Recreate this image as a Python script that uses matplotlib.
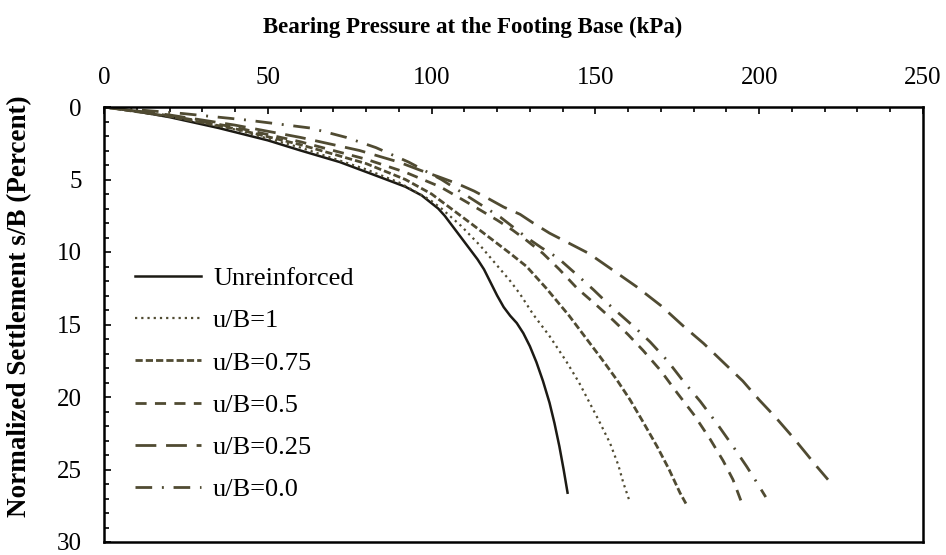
import numpy as np
import matplotlib
matplotlib.use('Agg')
import matplotlib.pyplot as plt
from matplotlib.ticker import MultipleLocator

# ---------------- data ----------------
p_unr = [0, 10, 20, 35, 50, 60, 72, 85, 92, 97, 102, 104, 106, 108, 110, 112, 114, 116, 118, 120,
         122, 124, 126, 128, 130, 132, 134, 136, 137.5, 139, 140.3, 141.5]
s_unr = [0, 0.3, 0.7, 1.45, 2.3, 3.0, 3.8, 4.9, 5.5, 6.1, 7.0, 7.5, 8.1, 8.7, 9.3, 9.9, 10.5, 11.2, 12.1, 13.0,
         13.8, 14.4, 14.9, 15.6, 16.5, 17.6, 18.9, 20.4, 21.8, 23.4, 25.0, 26.6]

p_100 = [0, 20, 40, 60, 80, 90, 99.5, 103, 106, 109, 112, 115, 118, 121, 124, 127, 131, 136, 141,
         145, 148, 151, 154.5, 157, 158.5, 160.3]
s_100 = [0, 0.65, 1.55, 2.8, 4.3, 5.2, 6.4, 7.0, 7.6, 8.2, 8.9, 9.6, 10.4, 11.2, 12.0, 12.9, 14.3, 15.8, 17.5,
         19.0, 20.3, 21.6, 23.2, 24.7, 25.9, 27.1]

p_075 = [0, 20, 40, 60, 80, 92, 100, 107.7, 113, 118.8, 124, 129, 135, 142, 147, 152, 156.5, 160.6,
         164.5, 168.8, 172.5, 175.8, 178]
s_075 = [0, 0.65, 1.5, 2.6, 3.9, 5.0, 6.0, 7.3, 8.2, 9.2, 10.1, 11.0, 12.5, 14.4, 15.9, 17.4, 18.8, 20.2,
         21.7, 23.4, 25.0, 26.6, 27.5]

p_050 = [0, 20, 40, 60, 80, 92, 102.6, 108, 114.8, 120, 124.8, 129, 134, 139, 144.4, 150, 155.4, 160,
         164.6, 170, 174.9, 180, 185, 189, 192, 195]
s_050 = [0, 0.6, 1.4, 2.4, 3.6, 4.5, 5.5, 6.2, 7.1, 7.8, 8.5, 9.2, 10.1, 11.2, 12.5, 13.6, 14.7, 15.7,
         16.8, 18.2, 19.7, 21.2, 22.9, 24.4, 25.7, 27.5]

p_025 = [0, 20, 40, 60, 78, 90, 97, 102, 108, 113, 118, 122, 127, 131, 136, 142, 148, 155, 162.6, 170,
         176.8, 183, 189, 195, 200, 205, 210, 214, 217.6, 221]
s_025 = [0, 0.55, 1.25, 2.1, 3.0, 3.8, 4.4, 4.8, 5.3, 5.8, 6.4, 6.9, 7.4, 8.0, 8.7, 9.4, 10.1, 11.2, 12.4, 13.7,
         15.1, 16.3, 17.6, 18.9, 20.2, 21.4, 22.7, 23.8, 24.8, 25.7]

p_000 = [0, 24, 43.6, 63, 74, 83, 93, 103, 112, 121, 129, 133.5, 138.5, 144, 149.4, 154, 158.5, 162.5,
         166.7, 172, 176.8, 182, 187, 192, 196.2, 199, 202]
s_000 = [0, 0.45, 0.9, 1.45, 2.1, 2.8, 3.8, 5.0, 6.3, 7.6, 9.0, 9.7, 10.4, 11.5, 12.6, 13.6, 14.5, 15.3,
         16.2, 17.5, 18.9, 20.3, 21.8, 23.4, 24.8, 25.8, 26.9]

labels = ['Unreinforced', 'u/B=1', 'u/B=0.75', 'u/B=0.5', 'u/B=0.25', 'u/B=0.0']

# ---------------- styling ----------------
plt.rcParams['font.family'] = ['Liberation Serif', 'DejaVu Serif']
dark = '#1c1a14'
olive = '#504b32'

fig = plt.figure(figsize=(9.46, 5.55), dpi=100)
ax = fig.add_axes([104/946, 1-542/555, (923-104)/946, (542-107)/555])

ax.plot(p_unr, s_unr, color=dark, lw=1.8, ls='-', label=labels[0])
ax.plot(p_100, s_100, color=olive, lw=1.6, ls=(0, (1, 1.8)), label=labels[1])
ax.plot(p_075, s_075, color=olive, lw=2.0, ls=(0, (2.6, 1.1)), label=labels[2])
ax.plot(p_050, s_050, color=olive, lw=2.0, ls=(0, (4, 3)), label=labels[3])
ax.plot(p_025, s_025, color=olive, lw=2.0, ls=(0, (7.5, 3.5)), label=labels[4])
ax.plot(p_000, s_000, color=olive, lw=2.0, ls=(0, (6, 3.5, 0.7, 3.5)), label=labels[5])

ax.set_xlim(0, 250)
ax.set_ylim(30, 0)
ax.xaxis.tick_top()
ax.xaxis.set_major_locator(MultipleLocator(50))
ax.xaxis.set_minor_locator(MultipleLocator(10))
ax.yaxis.set_major_locator(MultipleLocator(5))
ax.yaxis.set_minor_locator(MultipleLocator(1))
ax.tick_params(axis='x', which='major', direction='in', length=5, width=1.2, labelsize=18, pad=13)
ax.tick_params(axis='x', which='minor', direction='in', length=3.5, width=1.2)
ax.tick_params(axis='y', which='major', direction='in', length=5, width=1.2, labelsize=18, pad=16)
ax.tick_params(axis='y', which='minor', direction='in', length=3.5, width=1.2)
for sp in ax.spines.values():
    sp.set_linewidth(1.8)

fig.text(0.5, 1-27/555, 'Bearing Pressure at the Footing Base (kPa)',
         ha='center', va='center', fontsize=16.5, fontweight='bold')
fig.text(20/946, 1-306/555, 'Normalized Settlement s/B (Percent)',
         ha='center', va='center', rotation=90, fontsize=19.5, fontweight='bold')

ax.legend(loc='upper left', bbox_to_anchor=(0.038, 0.633), frameon=False,
          fontsize=19, handlelength=2.5, handletextpad=0.45, labelspacing=0.71,
          borderpad=0, borderaxespad=0)

fig.savefig('out.png', dpi=100)
